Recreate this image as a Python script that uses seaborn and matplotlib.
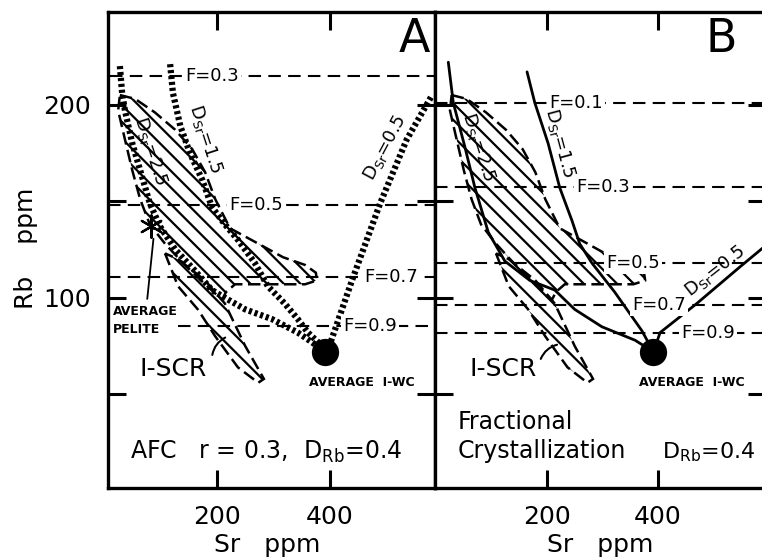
import numpy as np
import pandas as pd
import matplotlib
matplotlib.use("Agg")
import matplotlib.pyplot as plt
import seaborn as sns
from matplotlib.patches import Polygon

# ---------------- data ----------------
avg_iwc_sr = [392]
avg_iwc_rb = [72]
pelite_sr = [84]
pelite_rb = [137]

# Panel A (AFC) model curves
A_dsr25_sr = [28, 32, 37, 50, 67, 81, 99, 126, 161, 191, 220, 250, 297, 343, 368, 392]
A_dsr25_rb = [220, 206, 197, 180, 163, 149, 137, 125, 114, 104, 99, 94, 89, 82, 77, 72]
A_dsr15_sr = [117, 122, 135, 152, 174, 191, 214, 237, 267, 290, 320, 343, 361, 379, 392]
A_dsr15_rb = [221, 206, 189, 175, 161, 147, 138, 130, 118, 106, 97, 89, 82, 77, 72]
A_dsr05_sr = [392, 400, 439, 489, 536, 581]
A_dsr05_rb = [72, 76, 109, 149, 182, 205]
A_F_labels = ["F=0.3", "F=0.5", "F=0.7", "F=0.9"]
A_F_rb = [215, 148, 111, 85.5]
A_F_start = [10, 7, 7, 131]
A_F_label_sr = [191, 270, 508, 471]

# Panel B (fractional crystallization) model curves
B_dsr25_sr = [22, 31, 52, 70, 94, 124, 169, 214, 250, 299, 359, 392]
B_dsr25_rb = [222, 201, 178, 157, 134, 119, 109, 104, 94, 85, 78, 72]
B_dsr15_sr = [164, 178, 202, 223, 245, 259, 281, 322, 371, 392]
B_dsr15_rb = [217, 201, 180, 157, 140, 128, 118, 103, 83, 72]
B_dsr05_sr = [392, 404, 470, 548, 611]
B_dsr05_rb = [72, 82, 97, 116, 131]
B_F_labels = ["F=0.1", "F=0.3", "F=0.5", "F=0.7", "F=0.9"]
B_F_rb = [201, 157.5, 118, 96.4, 81.9]
B_F_label_sr = [252, 301, 355, 402, 490]

# I-SCR fields (hatched)
field_sr = [28, 55, 90, 126, 156, 179, 197, 223, 267, 317, 356, 375, 377, 356, 294, 232,
            216, 209, 179, 143, 108, 81, 64, 50, 37, 25]
field_rb = [205, 203, 196, 187, 177, 165, 151, 136, 129, 121, 117, 113, 109, 107, 107, 107,
            103, 99, 107, 117, 128, 138, 151, 166, 182, 197]
iscr_sr = [108, 131, 166, 197, 237, 273, 283, 250, 214, 179, 131]
iscr_rb = [123, 106, 94, 80, 64, 56, 58, 75, 97, 109, 120]

x_ticks = [200, 400]
y_ticks = [50, 100, 150, 200]
y_ticklabels = ["", "100", "", "200"]

# ---------------- style ----------------
sns.set_style("ticks")
plt.rcParams["font.family"] = ["DejaVu Sans"]
plt.rcParams["mathtext.fontset"] = "dejavusans"
plt.rcParams["mathtext.default"] = "regular"
plt.rcParams["hatch.linewidth"] = 1.6
for key in ["text.color", "axes.labelcolor", "xtick.color", "ytick.color",
            "axes.edgecolor"]:
    plt.rcParams[key] = "black"

W, H = 762, 559
fig = plt.figure(figsize=(W / 100, H / 100), dpi=100)
axA = fig.add_axes([108 / W, 1 - 488 / H, 327 / W, 476 / H])
axB = fig.add_axes([435 / W, 1 - 488 / H, 331 / W, 476 / H])

DOT = (0, (0.5, 0.45))
FDASH = (0, (6, 3.5))
OUTL = (0, (5, 2.2))


def style_axes(ax, xlim):
    ax.set_xlim(*xlim)
    ax.set_ylim(1.5, 248)
    for s in ax.spines.values():
        s.set_linewidth(2.4)
        s.set_visible(True)
        s.set_color("black")
    ax.set_xticks(x_ticks)
    ax.set_yticks(y_ticks)
    ax.tick_params(axis="both", direction="in", length=13, width=2.2,
                   top=True, right=True, labelsize=18, pad=12, colors="black")


def draw_fields(ax):
    p1 = Polygon(np.column_stack([field_sr, field_rb]), closed=True, fill=False,
                 hatch="\\\\", edgecolor="black", linewidth=1.8, linestyle=OUTL)
    p2 = Polygon(np.column_stack([iscr_sr, iscr_rb]), closed=True, fill=False,
                 hatch="\\\\", edgecolor="black", linewidth=1.8, linestyle=OUTL)
    ax.add_patch(p1)
    ax.add_patch(p2)


def curve(ax, xs, ys, dotted):
    df = pd.DataFrame({"Sr": xs, "Rb": ys})
    if dotted:
        sns.lineplot(data=df, x="Sr", y="Rb", sort=False, estimator=None, ax=ax,
                     color="black", linewidth=4.5, linestyle=DOT, zorder=3)
    else:
        sns.lineplot(data=df, x="Sr", y="Rb", sort=False, estimator=None, ax=ax,
                     color="black", linewidth=2.0, zorder=3)


def flines(ax, levels, labels, starts, label_x, xmax):
    for lev, lab, st, lx in zip(levels, labels, starts, label_x):
        df = pd.DataFrame({"Sr": [st, xmax], "Rb": [lev, lev]})
        sns.lineplot(data=df, x="Sr", y="Rb", sort=False, estimator=None, ax=ax,
                     color="black", linewidth=1.5, linestyle=FDASH, zorder=2)
        ax.text(lx, lev, lab, ha="center", va="center", fontsize=13, zorder=5,
                bbox=dict(facecolor="white", edgecolor="none", pad=1.5))


# ---------------- Panel A ----------------
style_axes(axA, (7, 586))
draw_fields(axA)
flines(axA, A_F_rb, A_F_labels, A_F_start, A_F_label_sr, 586)
curve(axA, A_dsr25_sr, A_dsr25_rb, True)
curve(axA, A_dsr15_sr, A_dsr15_rb, True)
curve(axA, A_dsr05_sr, A_dsr05_rb, True)
sns.scatterplot(x=avg_iwc_sr, y=avg_iwc_rb, s=330, color="black", ax=axA, zorder=6,
                edgecolor="black")
sns.scatterplot(x=pelite_sr, y=pelite_rb, s=260, marker=(6, 2, 0), color="black",
                ax=axA, zorder=6, linewidth=1.6)
axA.set_yticklabels(y_ticklabels)
axA.set_ylabel("Rb    ppm", fontsize=18)
axA.yaxis.set_label_coords(-0.215, 0.504)
axA.set_xlabel("Sr   ppm", fontsize=18)
axA.xaxis.set_label_coords(0.486, -0.095)

axA.text(550, 234, "A", fontsize=33, ha="center", va="center")
axA.text(83, 176, r"D$_{Sr}$=2.5", rotation=-72, fontsize=13, ha="center", va="center",
         zorder=5, rotation_mode="anchor")
axA.text(179, 182, r"D$_{Sr}$=1.5", rotation=-72, fontsize=13, ha="center", va="center",
         zorder=5, rotation_mode="anchor")
axA.text(497, 178, r"D$_{Sr}$=0.5", rotation=62, fontsize=13, ha="center", va="center",
         zorder=5, rotation_mode="anchor")
axA.text(16, 88, "AVERAGE\nPELITE", fontsize=9, fontweight="bold", ha="left",
         va="center", linespacing=1.5)
axA.annotate("", xy=(88, 132), xytext=(76, 98),
             arrowprops=dict(arrowstyle="-", lw=1.3, color="black"))
axA.text(122, 63, "I-SCR", fontsize=18, ha="center", va="center")
axA.annotate("", xy=(219, 80), xytext=(191, 69),
             arrowprops=dict(arrowstyle="-", lw=1.5, color="black",
                             connectionstyle="arc3,rad=-0.3"))
axA.text(457, 56, "AVERAGE  I-WC", fontsize=9, fontweight="bold", ha="center",
         va="center")
axA.text(46, 20, r"AFC   r = 0.3,  D$_{Rb}$=0.4", fontsize=17, ha="left", va="center")

# ---------------- Panel B ----------------
style_axes(axB, (-2, 595))
draw_fields(axB)
flines(axB, B_F_rb, B_F_labels, [-2] * 5, B_F_label_sr, 595)
curve(axB, B_dsr25_sr, B_dsr25_rb, False)
curve(axB, B_dsr15_sr, B_dsr15_rb, False)
curve(axB, B_dsr05_sr, B_dsr05_rb, False)
sns.scatterplot(x=avg_iwc_sr, y=avg_iwc_rb, s=330, color="black", ax=axB, zorder=6,
                edgecolor="black")
axB.set_yticklabels([])
axB.set_ylabel("")
axB.set_xlabel("Sr   ppm", fontsize=18)
axB.xaxis.set_label_coords(0.498, -0.095)
axB.text(515, 234, "B", fontsize=33, ha="center", va="center")
axB.text(76, 178, r"D$_{Sr}$=2.5", rotation=-72, fontsize=13, ha="center", va="center",
         zorder=5, rotation_mode="anchor")
axB.text(223, 180, r"D$_{Sr}$=1.5", rotation=-75, fontsize=13, ha="center", va="center",
         zorder=5, rotation_mode="anchor")
axB.text(503, 114, r"D$_{Sr}$=0.5", rotation=38, fontsize=13, ha="center", va="center",
         zorder=5, rotation_mode="anchor")
axB.text(121, 63, "I-SCR", fontsize=18, ha="center", va="center")
axB.annotate("", xy=(223, 76), xytext=(187, 67),
             arrowprops=dict(arrowstyle="-", lw=1.5, color="black",
                             connectionstyle="arc3,rad=-0.3"))
axB.text(461, 56, "AVERAGE  I-WC", fontsize=9, fontweight="bold", ha="center",
         va="center")
axB.text(38, 28, "Fractional\nCrystallization", fontsize=17, ha="left", va="center",
         linespacing=1.25)
axB.text(408, 20, r"D$_{Rb}$=0.4", fontsize=16, ha="left", va="center")

fig.savefig("out.png", dpi=100)
